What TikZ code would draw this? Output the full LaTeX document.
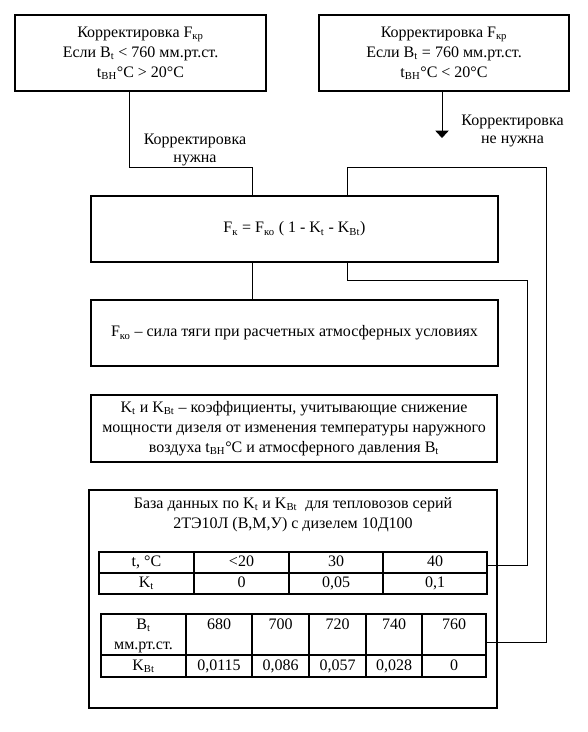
\documentclass[tikz,border=0pt]{standalone}
\usepackage{fontspec}
\setmainfont{Liberation Serif}
\usetikzlibrary{arrows.meta}
\newcommand\ix[1]{\textsubscript{#1}}

\begin{document}
\begin{tikzpicture}[x=0.75pt,y=-0.75pt,font=\fontsize{12}{15}\selectfont,
    box/.style={draw,line width=0.8pt,inner sep=0pt,align=center},
    cell/.style={inner sep=0pt,align=center},
    val/.style={inner sep=0pt,text height=8.5pt,text depth=2.5pt},
    note/.style={align=center,font=\fontsize{12}{13.5}\selectfont},
    conn/.style={line width=0.6pt},
    arr/.style={-{Triangle[width=10pt,length=5.5pt]},line width=0.6pt}]
  \useasboundingbox (0,0) rectangle (588,732);
  % upper condition boxes
  \node[box,minimum width=188.25pt,minimum height=57pt] (box1) at (140.5,53)
    {Корректировка F\ix{кр}\\Если B\ix{t} < 760 мм.рт.ст.\\t\ix{ВН}°C > 20°C};
  \node[box,minimum width=187.5pt,minimum height=57pt] (box2) at (444,53)
    {Корректировка F\ix{кр}\\Если B\ix{t} = 760 мм.рт.ст.\\t\ix{ВН}°C < 20°C};
  % formula and explanations
  \node[box,minimum width=305.25pt,minimum height=49.5pt] (fk) at (294.5,229)
    {F\ix{к} = F\ix{ко} ( 1 - K\ix{t} - K\ix{Bt})};
  \node[box,minimum width=305.25pt,minimum height=49.5pt] (fko) at (294.5,333)
    {F\ix{ко} – сила тяги при расчетных атмосферных условиях};
  \node[box,minimum width=304.5pt,minimum height=50.25pt] (kt) at (294,428.5)
    {K\ix{t} и K\ix{Bt} – коэффициенты, учитывающие снижение\\мощности дизеля от изменения температуры наружного\\воздуха t\ix{ВН}°C и атмосферного давления B\ix{t}};
  % database frame
  \node[box,minimum width=306pt,minimum height=163.5pt] (db) at (293,599) {};
  \node[cell] (dbtitle) at (293,514.5)
    {База данных по K\ix{t} и K\ix{Bt}\ \ для тепловозов серий\\2ТЭ10Л (В,М,У) с дизелем 10Д100};
  % table of K_t
  \node[box,minimum width=291pt,minimum height=31.5pt] (tabA) at (293,573) {};
  \draw[line width=0.8pt] (tabA.west) -- (tabA.east);
  \foreach \x in {194,289,383} \draw[line width=0.8pt] (\x,552) -- (\x,594);
  \foreach \x/\t [count=\i] in {146.5/{t, °C},241.5/{<20},336/30,435/40}
    \node[val] (ta1\i) at (\x,562.5) {\t};
  \foreach \x/\t [count=\i] in {146.5/{K\ix{t}},241.5/0,336/{0,05},435/{0,1}}
    \node[val] (ta2\i) at (\x,583.5) {\t};
  % table of K_Bt
  \node[box,minimum width=288.75pt,minimum height=47.25pt] (tabB) at (293.5,645.5) {};
  \draw[line width=0.8pt] (101,655) -- (486,655);
  \foreach \x in {186,252,309,366,422} \draw[line width=0.8pt] (\x,614) -- (\x,677);
  \node[cell] (tb10) at (143.5,636) {B\ix{t}\\мм.рт.ст.};
  \foreach \x/\t [count=\i] in {219/680,280.5/700,337.5/720,394/740,454/760}
    \node[val] (tb1\i) at (\x,625) {\t};
  \foreach \x/\t [count=\i] in {143.5/{K\ix{Bt}},219/{0,0115},280.5/{0,086},337.5/{0,057},394/{0,028},454/0}
    \node[val] (tb2\i) at (\x,666) {\t};
  % labels
  \node[note] (lab1) at (195,150) {Корректировка\\нужна};
  \node[note] (lab2) at (512.5,131) {Корректировка\\не нужна};
  % connectors
  \coordinate (j1) at (129,167);
  \coordinate (j2) at (252,167);
  \coordinate (j3) at (347,167);
  \coordinate (j4) at (546,642);
  \coordinate (j5) at (347,280);
  \coordinate (j6) at (527,565);
  \coordinate (j7) at (442,138);
  \draw[conn] (box1.south -| j1) |- (j2) -- (fk.north -| j2);
  \draw[conn] (fk.south -| j2) -- (fko.north -| j2);
  \draw[conn] (fk.north -| j3) -- (j3) -| (j4) -- (tabB.east |- j4);
  \draw[conn] (fk.south -| j5) -- (j5) -| (j6) -- (tabA.east |- j6);
  \draw[arr] (box2.south -| j7) -- (j7);
\end{tikzpicture}
\end{document}
